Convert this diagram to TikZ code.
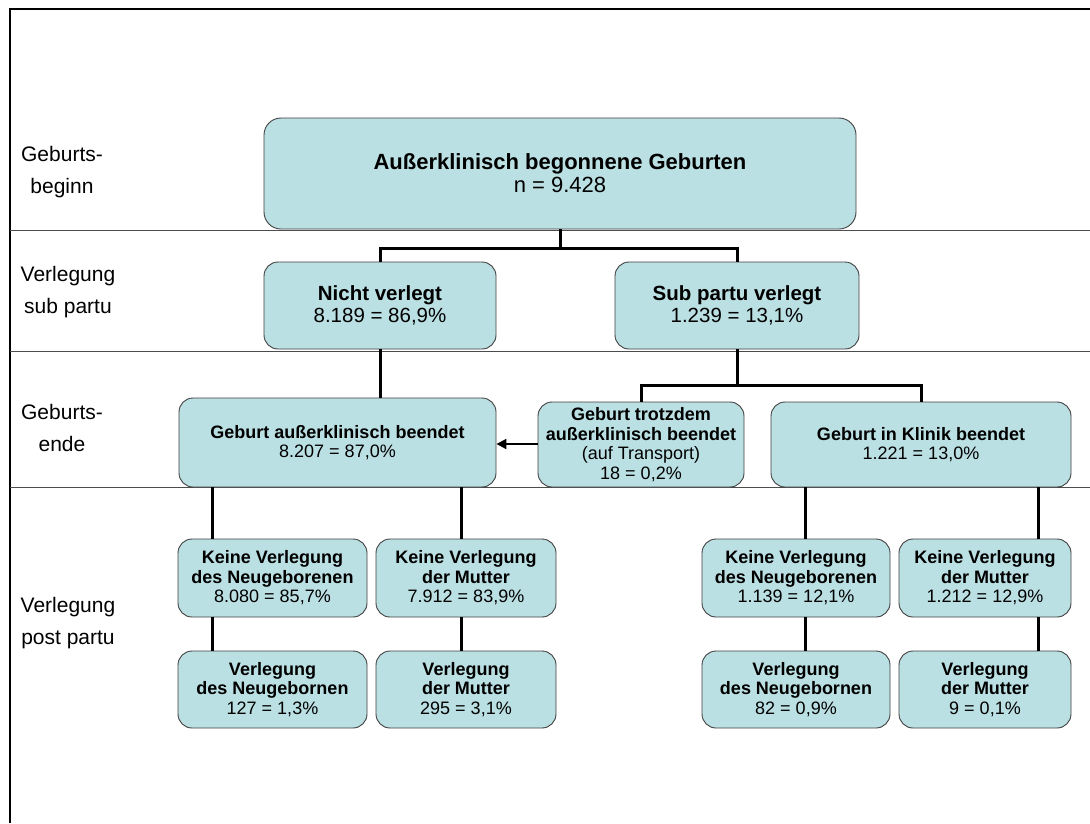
\documentclass[tikz,border=0pt]{standalone}
\usepackage{fontspec}
\setmainfont{Liberation Sans}
\usetikzlibrary{arrows.meta}
\definecolor{boxfill}{RGB}{187,224,227}
\tikzset{
  box/.style={draw=black!75, line width=0.9pt, fill=boxfill, rounded corners=14pt,
    align=center, inner sep=0pt},
  conn/.style={line width=3pt, black},
  sep/.style={line width=1pt, black!70},
  lbl/.style={align=center, font=\fontsize{21}{32}\selectfont},
  fbig/.style={font=\fontsize{22}{23}\selectfont},
  fmid/.style={font=\fontsize{20.5}{22.5}\selectfont},
  fsmall/.style={font=\fontsize{18}{19.5}\selectfont},
}
\begin{document}
\begin{tikzpicture}[x=1pt,y=-1pt]
\useasboundingbox (0,0) rectangle (1090,823);
\fill[white] (0,0) rectangle (1090,823);
% frame and separators
\draw[line width=2.2pt] (10,823) -- (10,9) -- (1090,9);
\draw[sep] (10,230) -- (1090,230);
\draw[sep] (10,351) -- (1090,351);
\draw[sep] (10,487) -- (1090,487);
% row labels
\node[lbl] (l1) at (62,172) {Geburts-\\beginn};
\node[lbl] (l2) at (68,292) {Verlegung\\sub partu};
\node[lbl] (l3) at (62,428) {Geburts-\\ende};
\node[lbl] (l4) at (68,623) {Verlegung\\post partu};
% boxes
\node[box, fbig, minimum width=592, minimum height=111, rounded corners=17pt] (A) at (560,173.5)
  {\textbf{Außerklinisch begonnene Geburten}\\n = 9.428};
\node[box, fmid, minimum width=232, minimum height=87] (B) at (380,305.5)
  {\textbf{Nicht verlegt}\\8.189 = 86,9\%};
\node[box, fmid, minimum width=244, minimum height=87] (C) at (737,305.5)
  {\textbf{Sub partu verlegt}\\1.239 = 13,1\%};
\node[box, fsmall, minimum width=317, minimum height=89] (D) at (337.5,442.5)
  {\textbf{Geburt außerklinisch beendet}\\8.207 = 87,0\%};
\node[box, fsmall, minimum width=206, minimum height=85] (E) at (641,444.5)
  {\textbf{Geburt trotzdem}\\\textbf{außerklinisch beendet}\\(auf Transport)\\18 = 0,2\%};
\node[box, fsmall, minimum width=300, minimum height=85] (F) at (921,444.5)
  {\textbf{Geburt in Klinik beendet}\\1.221 = 13,0\%};
\node[box, fsmall, minimum width=189, minimum height=78] (G1) at (272.5,578)
  {\textbf{Keine Verlegung}\\\textbf{des Neugeborenen}\\8.080 = 85,7\%};
\node[box, fsmall, minimum width=180, minimum height=78] (G2) at (466,578)
  {\textbf{Keine Verlegung}\\\textbf{der Mutter}\\7.912 = 83,9\%};
\node[box, fsmall, minimum width=188, minimum height=78] (G3) at (796,578)
  {\textbf{Keine Verlegung}\\\textbf{des Neugeborenen}\\1.139 = 12,1\%};
\node[box, fsmall, minimum width=172, minimum height=78] (G4) at (985,578)
  {\textbf{Keine Verlegung}\\\textbf{der Mutter}\\1.212 = 12,9\%};
\node[box, fsmall, minimum width=189, minimum height=77] (H1) at (272.5,689.5)
  {\textbf{Verlegung}\\\textbf{des Neugebornen}\\127 = 1,3\%};
\node[box, fsmall, minimum width=180, minimum height=77] (H2) at (466,689.5)
  {\textbf{Verlegung}\\\textbf{der Mutter}\\295 = 3,1\%};
\node[box, fsmall, minimum width=188, minimum height=77] (H3) at (796,689.5)
  {\textbf{Verlegung}\\\textbf{des Neugebornen}\\82 = 0,9\%};
\node[box, fsmall, minimum width=172, minimum height=77] (H4) at (985,689.5)
  {\textbf{Verlegung}\\\textbf{der Mutter}\\9 = 0,1\%};
% connector helper coordinates
\coordinate (jA) at (560,248);
\coordinate (jC) at (737,385);
\coordinate (x212) at (212,0);
\coordinate (x461) at (461,0);
\coordinate (x805) at (805,0);
\coordinate (x1038) at (1038,0);
% connectors
\draw[conn] (A.south) -- (jA);
\draw[conn] (jA) -| (B.north);
\draw[conn] (jA) -| (C.north);
\draw[conn] (B.south) -- (B.south |- D.north);
\draw[conn] (C.south) -- (jC);
\draw[conn] (jC) -| (E.north);
\draw[conn] (jC) -| (F.north);
\draw[line width=2pt, -{Triangle[length=10pt,width=10pt]}] (E.west |- 0,444) -- (D.east |- 0,444);
\draw[conn] (x212 |- D.south) -- (x212 |- G1.north);
\draw[conn] (x461 |- D.south) -- (x461 |- G2.north);
\draw[conn] (x805 |- F.south) -- (x805 |- G3.north);
\draw[conn] (x1038 |- F.south) -- (x1038 |- G4.north);
\draw[conn] (x212 |- G1.south) -- (x212 |- H1.north);
\draw[conn] (x461 |- G2.south) -- (x461 |- H2.north);
\draw[conn] (x805 |- G3.south) -- (x805 |- H3.north);
\draw[conn] (x1038 |- G4.south) -- (x1038 |- H4.north);
\end{tikzpicture}
\end{document}
